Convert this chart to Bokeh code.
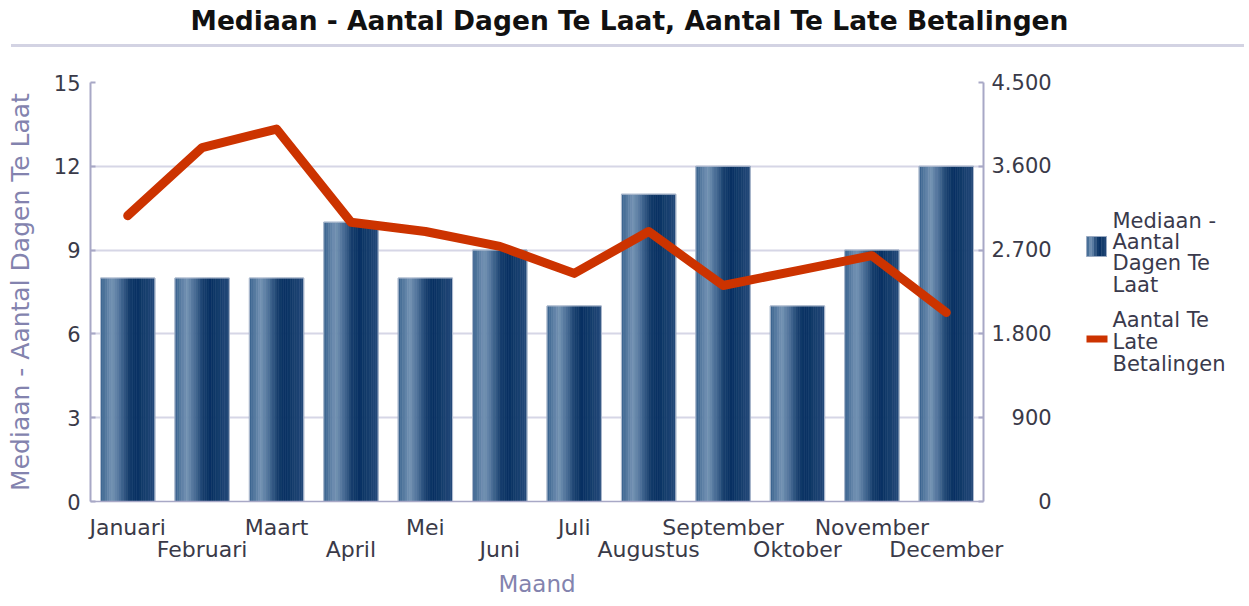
from bokeh.plotting import figure
from bokeh.models import (Range1d, LinearAxis, FixedTicker, Div, ColumnDataSource)
from bokeh.transform import dodge
from bokeh.layouts import column, row
from bokeh.embed import file_html
from bokeh.resources import INLINE
from bokeh.core.properties import value

# ---- data ----
months = ["Januari", "Februari", "Maart", "April", "Mei", "Juni", "Juli",
          "Augustus", "September", "Oktober", "November", "December"]
median_days = [8, 8, 8, 10, 8, 9, 7, 11, 12, 7, 9, 12]
late_payments = [3070, 3800, 4000, 3000, 2900, 2740, 2450, 2900, 2320, 2480, 2640, 2030]
left_ticks = [0, 3, 6, 9, 12, 15]
right_ticks = [0, 900, 1800, 2700, 3600, 4500]
right_tick_labels = ["0", "900", "1.800", "2.700", "3.600", "4.500"]
title_text = "Mediaan - Aantal Dagen Te Laat, Aantal Te Late Betalingen"
bar_series_lines = ["Mediaan -", "Aantal", "Dagen Te", "Laat"]
line_series_lines = ["Aantal Te", "Late", "Betalingen"]
x_label = "Maand"
y_label = "Mediaan - Aantal Dagen Te Laat"

FONT = "DejaVu Sans"
TICK_COLOR = "#3a3a48"
AXLABEL_COLOR = "#8383ae"
AXIS_COLOR = "#a8a8c6"
GRID_COLOR = "#d6d6e6"
LINE_COLOR = "#cc3300"

idx = list(range(len(months)))
src = ColumnDataSource(dict(idx=idx, month=months, days=median_days, late=late_payments))

TOTAL_W = 1233
DIV_H = 45
BL, BR, BT, BB = 90, 80, 27, 99
P_W, P_H = BL + 893 + BR, 545
p = figure(x_range=Range1d(-0.5, len(months) - 0.5), y_range=Range1d(0, 15),
           width=P_W, height=P_H, output_backend="svg", toolbar_location=None,
           min_border_left=BL, min_border_right=BR, min_border_top=BT,
           min_border_bottom=BB, outline_line_color=None,
           background_fill_color="white")
p.extra_y_ranges = {"right": Range1d(0, 4500)}

# ---- gradient bars (vertical strips) ----
def hex2rgb(h):
    h = h.lstrip("#")
    return tuple(int(h[i:i + 2], 16) for i in (0, 2, 4))

stops = [(0.0, "#36608c"), (0.10, "#55799f"), (0.22, "#7493b3"), (0.36, "#4b6f98"),
         (0.52, "#173e6d"), (0.66, "#073062"), (0.80, "#143c6b"), (1.0, "#24497a")]

def grad(t):
    for (t0, c0), (t1, c1) in zip(stops[:-1], stops[1:]):
        if t0 <= t <= t1:
            f = (t - t0) / (t1 - t0) if t1 > t0 else 0
            a, b = hex2rgb(c0), hex2rgb(c1)
            return "#%02x%02x%02x" % tuple(round(a[i] + (b[i] - a[i]) * f) for i in range(3))
    return stops[-1][1]

bar_w = 0.73
N = 24
sw = bar_w / N
for k in range(N):
    off = -bar_w / 2 + (k + 0.5) * sw
    c = grad((k + 0.5) / N)
    p.vbar(x=dodge("idx", off), top="days", bottom=0,
           width=sw, fill_color=c, line_color=c, line_width=0.6, source=src)
p.vbar(x="idx", top="days", bottom=0, width=bar_w, fill_color=None,
       line_color="#b4bfd2", line_width=1, source=src)

# ---- line ----
p.line(x="idx", y="late", y_range_name="right", source=src,
       line_color=LINE_COLOR, line_width=9, line_join="round", line_cap="round")

# ---- axes ----
yax = p.yaxis[0]
yax.ticker = FixedTicker(ticks=left_ticks)
yax.axis_label = y_label
yax.axis_label_text_font = FONT
yax.axis_label_text_font_size = "25px"
yax.axis_label_text_font_style = "normal"
yax.axis_label_text_color = AXLABEL_COLOR
yax.axis_label_standoff = 16
yax.major_label_text_font = FONT
yax.major_label_text_font_size = "21px"
yax.major_label_text_color = TICK_COLOR
yax.major_label_standoff = 10
yax.axis_line_color = AXIS_COLOR
yax.axis_line_width = 2
yax.major_tick_in = 5
yax.major_tick_out = 0
yax.major_tick_line_color = AXIS_COLOR
yax.major_tick_line_width = 2
yax.minor_tick_line_color = None

# right labels are right-aligned: pad with figure/punctuation spaces
widest = max(right_tick_labels, key=len)
def pad(lab):
    nd = sum(ch.isdigit() for ch in widest) - sum(ch.isdigit() for ch in lab)
    np_ = widest.count(".") - lab.count(".")
    return "\u2007" * nd + "\u2008" * np_ + lab

rax = LinearAxis(y_range_name="right", ticker=FixedTicker(ticks=right_ticks),
                 major_label_overrides={t: pad(l) for t, l in zip(right_ticks, right_tick_labels)})
rax.major_label_text_font = FONT
rax.major_label_text_font_size = "21px"
rax.major_label_text_color = TICK_COLOR
rax.major_label_standoff = 8
rax.axis_line_color = AXIS_COLOR
rax.axis_line_width = 2
rax.major_tick_in = 5
rax.major_tick_out = 0
rax.major_tick_line_color = AXIS_COLOR
rax.major_tick_line_width = 2
rax.minor_tick_line_color = None
p.add_layout(rax, "right")

# x axis: two staggered rows of month labels
even_idx = [i for i in idx if i % 2 == 0]
odd_idx = [i for i in idx if i % 2 == 1]

xax = p.xaxis[0]
xax.ticker = FixedTicker(ticks=even_idx)
xax.major_label_overrides = {i: months[i] for i in even_idx}
xax.major_label_text_font = FONT
xax.major_label_text_font_size = "22px"
xax.major_label_text_color = TICK_COLOR
xax.major_label_standoff = 7
xax.axis_line_color = AXIS_COLOR
xax.axis_line_width = 1.5
xax.major_tick_line_color = None
xax.minor_tick_line_color = None

xax2 = LinearAxis(ticker=FixedTicker(ticks=odd_idx),
                  major_label_overrides={i: months[i] for i in odd_idx})
xax2.major_label_text_font = FONT
xax2.major_label_text_font_size = "22px"
xax2.major_label_text_color = TICK_COLOR
xax2.major_label_standoff = -12
xax2.axis_line_color = None
xax2.major_tick_line_color = None
xax2.minor_tick_line_color = None
xax2.axis_label = x_label
xax2.axis_label_text_font = FONT
xax2.axis_label_text_font_size = "23px"
xax2.axis_label_text_font_style = "normal"
xax2.axis_label_text_color = AXLABEL_COLOR
xax2.axis_label_standoff = 6
p.add_layout(xax2, "below")

p.ygrid.ticker = FixedTicker(ticks=left_ticks)
p.ygrid.grid_line_color = GRID_COLOR
p.ygrid.grid_line_width = 2
p.xgrid.grid_line_color = None

# ---- legend panel (separate figure; data units = page pixels) ----
ORIGIN_X = 3
L_W = TOTAL_W - P_W
left_off = ORIGIN_X + P_W
FRAME_TOP, FRAME_BOT = 83, 502
leg = figure(width=L_W, height=P_H, x_range=Range1d(left_off, left_off + L_W),
             y_range=Range1d(FRAME_BOT, FRAME_TOP),
             output_backend="svg", toolbar_location=None,
             min_border_left=0, min_border_right=0, min_border_top=BT,
             min_border_bottom=BB, outline_line_color=None)
leg.axis.visible = False
leg.grid.visible = False
gx0 = 1089
gl = 20
for k in range(8):
    c = grad((k + 0.5) / 8)
    leg.quad(left=gx0 + k * gl / 8, right=gx0 + (k + 1) * gl / 8 + 0.3,
             top=237, bottom=257, fill_color=c, line_color=None)
leg.quad(left=gx0, right=gx0 + gl, top=237, bottom=257,
         fill_color=None, line_color="#9aaac2", line_width=1)
leg.quad(left=gx0, right=gx0 + 21, top=336, bottom=343,
         fill_color=LINE_COLOR, line_color=None)
tx = 1115
leg.text(x=[tx] * len(bar_series_lines), y=[221 + 21.4 * i for i in range(len(bar_series_lines))],
         text=bar_series_lines, text_font=value(FONT), text_font_size="21px",
         text_color="#3a3a4c", text_baseline="alphabetic", text_align="left")
leg.text(x=[tx] * len(line_series_lines), y=[320 + 22 * i for i in range(len(line_series_lines))],
         text=line_series_lines, text_font=value(FONT), text_font_size="21px",
         text_color="#3a3a4c", text_baseline="alphabetic", text_align="left")

title_div = Div(
    text=('<div style="width:1233px;text-align:center;font-family:\'DejaVu Sans\';'
          'font-weight:bold;font-size:26.5px;color:#111111;line-height:30px;'
          'padding-top:1px;padding-left:4px;height:42px;box-sizing:border-box;'
          'border-bottom:3px solid #d3d3e3;margin-left:6px;">' + title_text + '</div>'),
    width=TOTAL_W, height=DIV_H)

layout = column(title_div, row(p, leg, spacing=0), spacing=0)
open("out.html", "w").write(file_html(layout, INLINE))
